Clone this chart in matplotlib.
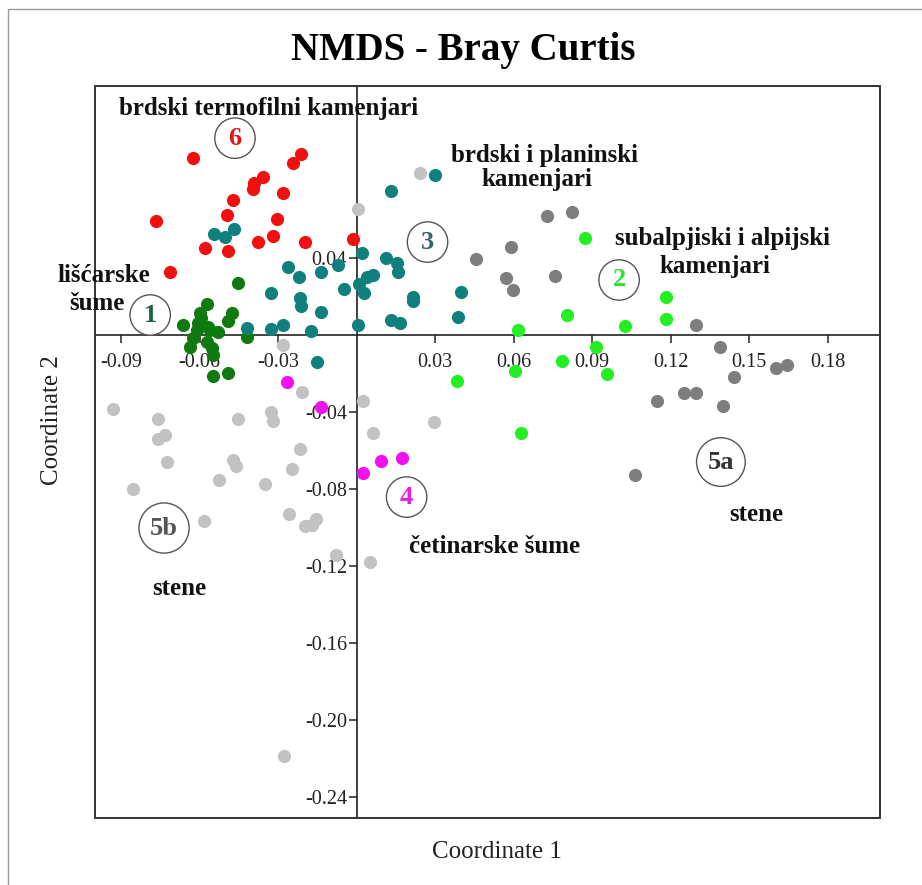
import matplotlib.pyplot as plt
from matplotlib.patches import Rectangle

plt.rcParams['font.family'] = ['Liberation Serif', 'DejaVu Serif']

# NMDS site scores (Coordinate 1, Coordinate 2) per habitat group
red_x = [-0.0625, -0.0214, -0.0244, -0.0359, -0.0393, -0.0397, -0.0282, -0.0473, -0.0767,
         -0.0496, -0.0305, -0.0320, -0.0378, -0.0198, -0.0580, -0.0492, -0.0713, -0.0015]
red_y = [0.0919, 0.0940, 0.0894, 0.0821, 0.0790, 0.0758, 0.0738, 0.0701, 0.0592,
         0.0623, 0.0603, 0.0514, 0.0483, 0.0483, 0.0452, 0.0436, 0.0327, 0.0499]

teal_x = [-0.0545, -0.0503, -0.0469, -0.0263, -0.0221, -0.0137, -0.0072, 0.0019, -0.0328,
          -0.0217, -0.0214, -0.0137, -0.0050, 0.0038, 0.0061, 0.0008, 0.0027, -0.0420,
          -0.0328, -0.0282, -0.0175, 0.0004, 0.0301, 0.0133, 0.0114, 0.0153, 0.0160,
          0.0214, 0.0214, 0.0400, 0.0133, 0.0164, 0.0389, -0.0153]
teal_y = [0.0525, 0.0509, 0.0551, 0.0353, 0.0301, 0.0327, 0.0364, 0.0426, 0.0218,
          0.0192, 0.0151, 0.0119, 0.0239, 0.0301, 0.0312, 0.0265, 0.0218, 0.0036,
          0.0031, 0.0052, 0.0021, 0.0052, 0.0831, 0.0748, 0.0400, 0.0374, 0.0327,
          0.0197, 0.0177, 0.0223, 0.0078, 0.0062, 0.0094, -0.0140]

dgreen_x = [-0.0454, -0.0572, -0.0599, -0.0477, -0.0492, -0.0664, -0.0606, -0.0568, -0.0610,
            -0.0561, -0.0530, -0.0625, -0.0572, -0.0637, -0.0553, -0.0549, -0.0549, -0.0492,
            -0.0420, -0.0595]
dgreen_y = [0.0270, 0.0161, 0.0114, 0.0114, 0.0073, 0.0052, 0.0062, 0.0042, 0.0026,
            0.0026, 0.0016, -0.0016, -0.0036, -0.0062, -0.0068, -0.0104, -0.0213, -0.0197,
            -0.0010, 0.0088]

lgreen_x = [0.0873, 0.0805, 0.0618, 0.1026, 0.0915, 0.0786, 0.0957, 0.0606, 0.0385,
            0.1182, 0.1182, 0.0629]
lgreen_y = [0.0504, 0.0104, 0.0026, 0.0047, -0.0062, -0.0135, -0.0203, -0.0187, -0.0239,
            0.0197, 0.0083, -0.0509]

dgray_x = [0.0728, 0.0824, 0.0591, 0.0458, 0.0759, 0.0572, 0.0599, 0.1297, 0.1388,
           0.1602, 0.1644, 0.1442, 0.1251, 0.1297, 0.1148, 0.1400, 0.1064]
dgray_y = [0.0618, 0.0639, 0.0457, 0.0395, 0.0306, 0.0296, 0.0234, 0.0052, -0.0062,
           -0.0171, -0.0156, -0.0218, -0.0301, -0.0301, -0.0343, -0.0369, -0.0727]

lgray_x = [0.0244, 0.0004, -0.0282, -0.0210, -0.0931, -0.0759, -0.0732, -0.0759, -0.0725,
           -0.0454, -0.0328, -0.0320, -0.0473, -0.0461, -0.0217, -0.0248, -0.0526, -0.0351,
           -0.0854, -0.0584, -0.0259, -0.0198, -0.0172, -0.0156, -0.0080, 0.0023, 0.0061,
           0.0050, 0.0294, -0.0278]
lgray_y = [0.0842, 0.0655, -0.0052, -0.0296, -0.0384, -0.0436, -0.0519, -0.0540, -0.0660,
           -0.0436, -0.0400, -0.0447, -0.0649, -0.0681, -0.0592, -0.0696, -0.0753, -0.0774,
           -0.0800, -0.0966, -0.0930, -0.0992, -0.0987, -0.0956, -0.1143, -0.0343, -0.0509,
           -0.1179, -0.0452, -0.2187]

mag_x = [-0.0267, -0.0137, 0.0023, 0.0092, 0.0175]
mag_y = [-0.0244, -0.0374, -0.0717, -0.0655, -0.0639]

xticks = [-0.09, -0.06, -0.03, 0.03, 0.06, 0.09, 0.12, 0.15, 0.18]
yticks = [0.04, -0.04, -0.08, -0.12, -0.16, -0.20, -0.24]

fig = plt.figure(figsize=(9.22, 8.85), dpi=100)
ax = fig.add_axes([0.1030, 0.0757, 0.8514, 0.8271])

# outer frame of the figure
fig.patches.append(Rectangle((0.0087, -0.2), 1.2, 1.1898, transform=fig.transFigure,
                             fill=False, ec='#9a9a9a', lw=1.0))

s = 90
ax.scatter(lgray_x, lgray_y, s=s, c='#c2c2c2', lw=0, zorder=3)
ax.scatter(dgray_x, dgray_y, s=s, c='#7e7e7e', lw=0, zorder=3)
ax.scatter(red_x, red_y, s=s, c='#f01010', lw=0, zorder=3)
ax.scatter(dgreen_x, dgreen_y, s=s, c='#0f7a0f', lw=0, zorder=3)
ax.scatter(teal_x, teal_y, s=s, c='#10807f', lw=0, zorder=3)
ax.scatter(lgreen_x, lgreen_y, s=s, c='#22f022', lw=0, zorder=3)
ax.scatter(mag_x, mag_y, s=s, c='#f010f0', lw=0, zorder=3)

ax.set_xlim(-0.1, 0.2)
ax.set_ylim(-0.251, 0.1294)

# axes cross through the origin, box drawn separately
ax.spines['left'].set_position(('data', 0))
ax.spines['bottom'].set_position(('data', 0))
ax.spines['top'].set_visible(False)
ax.spines['right'].set_visible(False)
for sp in ('left', 'bottom'):
    ax.spines[sp].set_color('#222222')
    ax.spines[sp].set_linewidth(1.2)
ax.add_patch(Rectangle((0, 0), 1, 1, transform=ax.transAxes, fill=False,
                       ec='#333333', lw=1.4, clip_on=False, zorder=4))

ax.set_xticks(xticks)
ax.set_xticklabels(['%.2f' % v for v in xticks])
ax.set_yticks(yticks)
ax.set_yticklabels(['%.2f' % v for v in yticks])
ax.tick_params(axis='both', direction='out', length=6, width=1.1, color='#222222',
               labelsize=14.5, labelcolor='#222222')
ax.tick_params(axis='x', pad=7)
ax.tick_params(axis='y', pad=1)

fig.text(0.502, 0.9435, 'NMDS - Bray Curtis', ha='center', va='center',
         fontsize=28, fontweight='bold')
fig.text(0.539, 0.0373, 'Coordinate 1', ha='center', va='center', fontsize=18, color='#222222')
fig.text(0.0564, 0.5254, 'Coordinate 2', ha='center', va='center', rotation=90,
         fontsize=18, color='#222222')

# habitat names
lab = dict(ha='center', va='baseline', fontsize=18, fontweight='bold', color='#111111', zorder=5)
ax.text(-0.0336, 0.1143, 'brdski termofilni kamenjari', **lab)
ax.text(0.0717, 0.0900, 'brdski i planinski', **lab)
ax.text(0.0688, 0.0774, 'kamenjari', **lab)
ax.text(0.1400, 0.0468, 'subalpjiski i alpijski', **lab)
ax.text(0.1369, 0.0322, 'kamenjari', **lab)
ax.text(-0.0967, 0.0275, 'lišćarske', **lab)
ax.text(-0.0993, 0.0130, 'šume', **lab)
ax.text(-0.0679, -0.1351, 'stene', **lab)
ax.text(0.1526, -0.0966, 'stene', **lab)
ax.text(0.0526, -0.1132, 'četinarske šume', **lab)

# circled group numbers
def circled(x, y, txt, color, pad):
    ax.text(x, y, txt, ha='center', va='center', fontsize=19, fontweight='bold',
            color=color, zorder=5,
            bbox=dict(boxstyle='circle,pad=%.2f' % pad, fc='white', ec='#555555', lw=1.0))

circled(-0.0465, 0.1023, '6', '#e01818', 0.33)
circled(0.0271, 0.0483, '3', '#356565', 0.33)
circled(0.1003, 0.0286, '2', '#30e030', 0.33)
circled(-0.0789, 0.0104, '1', '#1a6640', 0.33)
circled(-0.0736, -0.1003, '5b', '#555555', 0.42)
circled(0.1392, -0.0660, '5a', '#333333', 0.42)
circled(0.0191, -0.0842, '4', '#e020e0', 0.33)

fig.savefig('out.png', dpi=100)
